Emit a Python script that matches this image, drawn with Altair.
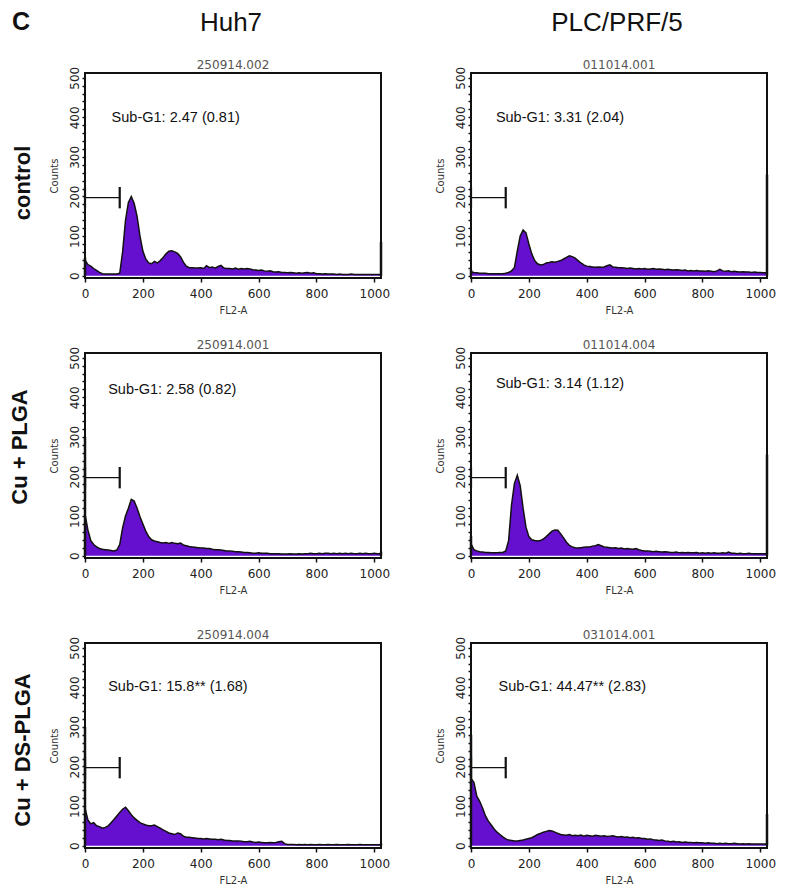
import altair as alt
import pandas as pd

# channel bins (FL2-A), one count per bin
bins = list(range(0, 1030, 10))

huh7_control = [
    40, 28, 24, 18, 13, 8, 5, 4, 4, 4,
    4, 4, 6, 60, 140, 185, 200, 182, 150, 100,
    62, 42, 32, 30, 36, 32, 38, 46, 55, 62,
    63, 60, 56, 48, 34, 24, 20, 20, 19, 19,
    20, 18, 25, 20, 22, 19, 23, 26, 19, 18,
    18, 17, 19, 16, 18, 17, 18, 17, 15, 14,
    13, 14, 12, 11, 12, 10, 9, 10, 8, 8,
    7, 8, 7, 6, 7, 6, 7, 8, 6, 7,
    5, 5, 4, 5, 4, 4, 4, 3, 4, 3,
    3, 3, 4, 3, 3, 3, 3, 3, 3, 3,
    3, 3, 3]

plc_control = [
    10, 8, 7, 6, 6, 6, 5, 5, 5, 5,
    5, 5, 6, 8, 12, 20, 62, 100, 115, 108,
    80, 55, 38, 30, 27, 28, 32, 33, 35, 34,
    36, 38, 42, 46, 50, 48, 44, 38, 32, 27,
    24, 23, 22, 21, 22, 21, 22, 25, 27, 22,
    21, 20, 20, 19, 18, 19, 18, 17, 18, 17,
    18, 16, 17, 18, 16, 17, 16, 15, 16, 15,
    14, 15, 14, 13, 14, 12, 13, 12, 13, 12,
    12, 11, 12, 11, 10, 12, 16, 12, 11, 12,
    10, 11, 10, 9, 10, 9, 9, 8, 9, 8,
    8, 7, 7]

huh7_plga = [
    105, 65, 38, 28, 22, 18, 16, 15, 14, 13,
    12, 14, 28, 70, 100, 120, 142, 138, 120, 98,
    80, 62, 48, 40, 37, 35, 33, 32, 33, 31,
    33, 31, 30, 32, 27, 25, 23, 22, 21, 20,
    19, 19, 18, 18, 16, 15, 15, 14, 13, 12,
    12, 11, 10, 10, 9, 8, 8, 7, 6, 6,
    7, 6, 6, 6, 5, 5, 5, 5, 4, 4,
    4, 5, 4, 4, 5, 4, 5, 5, 6, 5,
    5, 6, 5, 6, 6, 5, 6, 5, 6, 5,
    6, 5, 6, 5, 5, 6, 5, 6, 5, 5,
    6, 5, 5]

plc_plga = [
    30, 15, 12, 10, 9, 8, 8, 7, 7, 7,
    8, 8, 12, 38, 128, 182, 203, 177, 120, 72,
    48, 40, 38, 37, 38, 42, 48, 55, 62, 65,
    64, 55, 45, 34, 26, 22, 20, 19, 20, 21,
    22, 22, 24, 25, 28, 25, 22, 21, 20, 19,
    20, 18, 19, 17, 18, 17, 16, 18, 15, 13,
    12, 12, 11, 10, 11, 10, 9, 10, 9, 8,
    8, 9, 7, 8, 7, 8, 7, 7, 8, 6,
    7, 6, 7, 6, 7, 6, 6, 7, 6, 9,
    6, 6, 5, 6, 5, 5, 6, 5, 5, 5,
    5, 5, 5]

huh7_ds = [
    95, 65, 55, 58, 50, 48, 44, 46, 50, 58,
    66, 75, 84, 92, 97, 88, 78, 70, 64, 58,
    55, 52, 50, 50, 52, 48, 44, 40, 36, 32,
    30, 28, 32, 30, 24, 21, 21, 20, 19, 18,
    18, 17, 18, 17, 16, 16, 15, 16, 14, 13,
    13, 12, 12, 12, 11, 10, 10, 11, 9, 8,
    9, 8, 7, 7, 8, 7, 8, 10, 11, 5,
    3, 3, 3, 2, 3, 2, 3, 2, 3, 2,
    2, 3, 2, 2, 3, 2, 2, 3, 2, 2,
    2, 3, 2, 2, 2, 3, 2, 2, 2, 2,
    2, 2, 2]

plc_ds = [
    170, 160, 125, 112, 95, 75, 62, 52, 42, 34,
    28, 22, 17, 14, 13, 12, 12, 13, 14, 16,
    18, 20, 24, 28, 31, 34, 36, 38, 37, 34,
    31, 28, 27, 26, 28, 25, 26, 25, 27, 24,
    26, 25, 24, 26, 25, 24, 25, 23, 24, 25,
    23, 22, 23, 21, 22, 20, 21, 19, 20, 18,
    18, 16, 17, 15, 14, 13, 14, 12, 11, 10,
    11, 9, 10, 8, 9, 8, 8, 7, 8, 7,
    7, 6, 7, 6, 6, 5, 6, 5, 6, 5,
    5, 6, 5, 4, 5, 4, 5, 4, 4, 4,
    4, 4, 4]

series = [[huh7_control, plc_control], [huh7_plga, plc_plga], [huh7_ds, plc_ds]]

row_labels = ["control", "Cu + PLGA", "Cu + DS-PLGA"]
col_labels = ["Huh7", "PLC/PRF/5"]
panel_letter = "C"
file_ids = [["250914.002", "011014.001"], ["250914.001", "011014.004"], ["250914.004", "031014.001"]]
subg1_text = [["Sub-G1: 2.47 (0.81)", "Sub-G1: 3.31 (2.04)"],
              ["Sub-G1: 2.58 (0.82)", "Sub-G1: 3.14 (1.12)"],
              ["Sub-G1: 15.8** (1.68)", "Sub-G1: 44.47** (2.83)"]]
subg1_x = [[92, 86], [80, 86], [80, 95]]
subg1_y = [[398, 398], [419, 433], [400, 400]]
left_spike = [[45, 15], [300, 50], [300, 280]]
right_spike = [[85, 255], [10, 255], [5, 80]]
gate_start, gate_end = 0, 120
gate_y, gate_lo, gate_hi = 197, 170, 224
x_ticks = list(range(0, 1001, 50))

W, H = 296, 205
PURPLE = "#6510cf"
FONT = "Liberation Sans"
AXFONT = "DejaVu Sans"
row_label_pos = [(-62, 110), (-65, 94), (-62, 107)]


def panel(r, c):
    df = pd.DataFrame({"x": bins, "count": series[r][c]})
    xs = alt.Scale(domain=[0, 1023], nice=False, zero=False)
    ys = alt.Scale(domain=[-6, 512], nice=False, zero=False)
    x_axis = alt.Axis(values=x_ticks, labelExpr="datum.value % 200 == 0 ? '' + datum.value : ''",
                      title="FL2-A", titleFont=AXFONT, titleFontSize=10, titleFontWeight="normal",
                      titleColor="#333", titlePadding=6, labelFont=AXFONT, labelFontSize=12,
                      labelColor="#222", labelPadding=6, labelOverlap=False, labelFlush=False,
                      tickColor="#111", tickSize=4, tickWidth=1.5, domain=False, grid=False)
    y_axis = alt.Axis(tickCount=26, labelExpr="datum.value % 100 == 0 ? '' + datum.value : ''",
                      labelAngle=270, labelAlign="center", labelBaseline="bottom",
                      title="Counts", titleFont=AXFONT, titleFontSize=10, titleFontWeight="normal",
                      titleColor="#333", titlePadding=9, labelFont=AXFONT, labelFontSize=12,
                      labelColor="#222", labelPadding=1, labelOverlap=False, labelFlush=False,
                      tickColor="#111", tickSize=3, tickWidth=1.5, domain=False, grid=False)
    area = alt.Chart(df).mark_area(color=PURPLE, opacity=1).encode(
        x=alt.X("x:Q", scale=xs, axis=x_axis),
        y=alt.Y("count:Q", scale=ys, axis=y_axis))
    line = alt.Chart(df).mark_line(color="#111", strokeWidth=1.5).encode(x="x:Q", y="count:Q")
    spk = pd.DataFrame({"x": [0, 1023], "count": [0, 0], "hi": [left_spike[r][c], right_spike[r][c]]})
    spikes = alt.Chart(spk).mark_rule(color="#111", strokeWidth=2.5).encode(
        x="x:Q", y="count:Q", y2="hi:Q")
    gdf = pd.DataFrame({"x": [gate_start], "x2": [gate_end], "count": [gate_y]})
    gate_h = alt.Chart(gdf).mark_rule(color="#111", strokeWidth=1.3).encode(
        x="x:Q", x2="x2:Q", y="count:Q")
    gv = pd.DataFrame({"x": [gate_start, gate_end], "count": [gate_lo, gate_lo], "hi": [gate_hi, gate_hi]})
    gate_v = alt.Chart(gv).mark_rule(color="#111", strokeWidth=2.2).encode(
        x="x:Q", y="count:Q", y2="hi:Q")
    sdf = pd.DataFrame({"x": [subg1_x[r][c]], "count": [subg1_y[r][c]], "t": [subg1_text[r][c]]})
    sub = alt.Chart(sdf).mark_text(align="left", baseline="middle", font=FONT, fontSize=14.5,
                                   color="#111").encode(x="x:Q", y="count:Q", text="t:N")
    fdf = pd.DataFrame({"t": [file_ids[r][c]]})
    fid = alt.Chart(fdf).mark_text(align="center", baseline="middle", font=AXFONT, fontSize=12,
                                   color="#555").encode(x=alt.value(W / 2), y=alt.value(-8), text="t:N")
    layers = [area, line, spikes, gate_h, gate_v, sub, fid]
    if r == 0:
        hdf = pd.DataFrame({"t": [col_labels[c]]})
        layers.append(alt.Chart(hdf).mark_text(align="center", baseline="middle", font=FONT,
                                               fontSize=26, color="#111").encode(
            x=alt.value(W / 2 - 2), y=alt.value(-50), text="t:N"))
        if c == 0:
            ldf = pd.DataFrame({"t": [panel_letter]})
            layers.append(alt.Chart(ldf).mark_text(align="left", baseline="middle", font=FONT,
                                                   fontSize=25, fontWeight="bold", color="#111").encode(
                x=alt.value(-73), y=alt.value(-51.5), text="t:N"))
    if c == 0:
        rdf = pd.DataFrame({"t": [row_labels[r]]})
        rx, ry = row_label_pos[r]
        layers.append(alt.Chart(rdf).mark_text(align="center", baseline="middle", font=FONT,
                                               fontSize=22, fontWeight="bold", angle=270,
                                               color="#111").encode(
            x=alt.value(rx), y=alt.value(ry), text="t:N"))
    return alt.layer(*layers).properties(width=W, height=H)


rows = [alt.hconcat(panel(r, 0), panel(r, 1), spacing=42) for r in range(3)]
chart = alt.vconcat(alt.vconcat(rows[0], rows[1], spacing=22), rows[2], spacing=32)
chart = chart.properties(padding=0, background="white").configure_view(
    stroke="#111", strokeWidth=2)

chart.save("out.html", embed_options={"renderer": "svg", "actions": False})
